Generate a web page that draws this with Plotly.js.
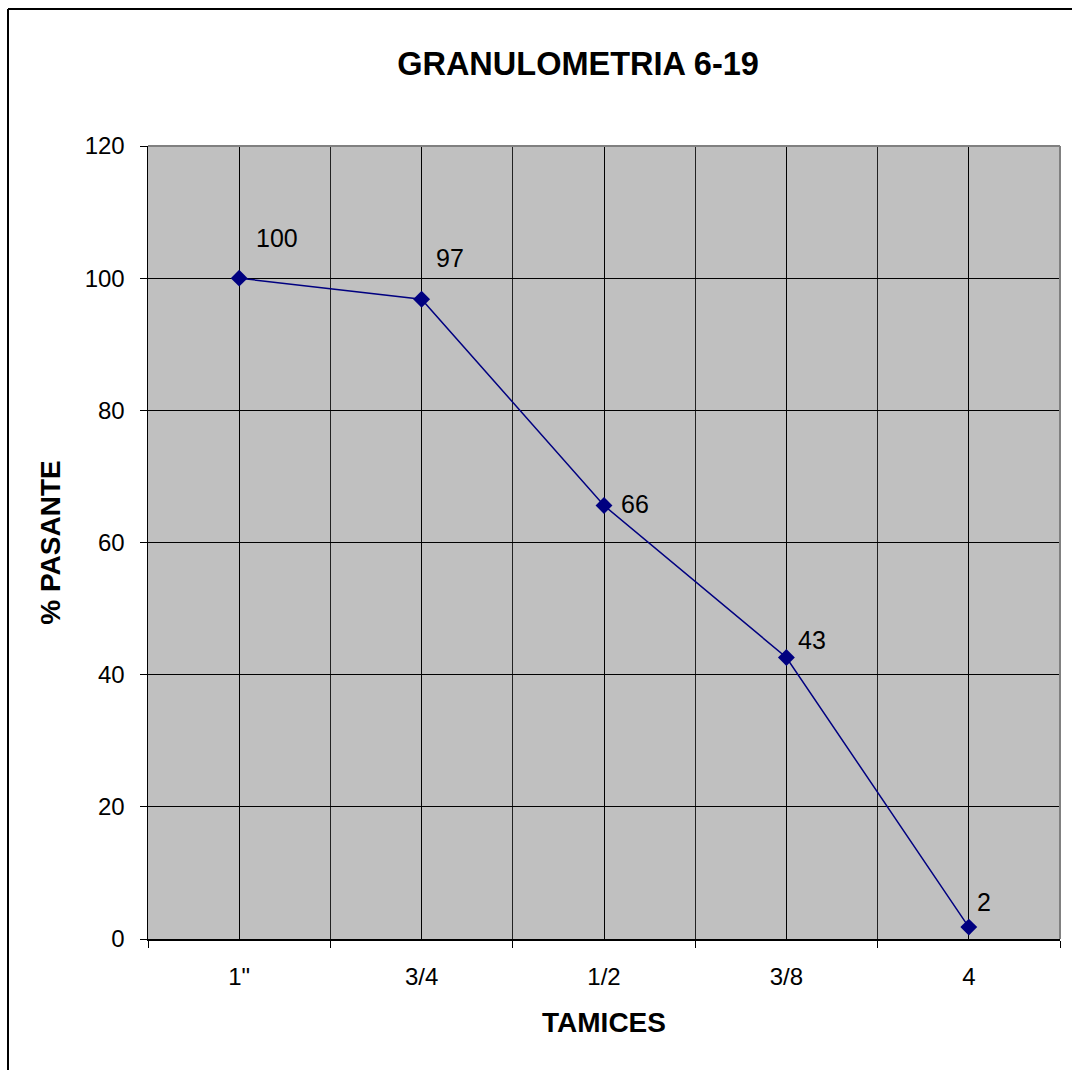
<!DOCTYPE html>
<html>
<head>
<meta charset="utf-8">
<script src="https://cdn.plot.ly/plotly-3.0.1.min.js"></script>
<style>
  html, body { margin: 0; padding: 0; background: #ffffff; }
  #chart { width: 1072px; height: 1070px; }
</style>
</head>
<body>
<div id="chart"></div>
<script>
// ---- data ----
const categories = ['1"', '3/4', '1/2', '3/8', '4'];
const pasante = [100, 96.8, 65.6, 42.6, 1.8];
const yTicks = [0, 20, 40, 60, 80, 100, 120];

// ---- presentation (label offsets in px) ----
const labelShiftX = [38, 28, 31, 26, 15];
const labelShiftY = [40, 41, 1, 17, 25];

const xIdx = categories.map((c, i) => i);
const FONT = 'Liberation Sans, Arial, sans-serif';

const trace = {
  type: 'scatter',
  mode: 'lines+markers',
  x: xIdx,
  y: pasante,
  line: { color: '#000080', width: 1.5 },
  marker: { symbol: 'diamond', size: 13, color: '#000080' },
  hoverinfo: 'skip',
  showlegend: false
};

const annotations = pasante.map((v, i) => ({
  x: xIdx[i], y: v, xref: 'x', yref: 'y',
  text: String(Math.round(v)),
  showarrow: false,
  xanchor: 'center', yanchor: 'middle',
  xshift: labelShiftX[i], yshift: labelShiftY[i],
  font: { family: FONT, size: 25, color: '#000000' }
}));

const layout = {
  width: 1072, height: 1070,
  margin: { l: 148, r: 12, t: 146, b: 131 },
  paper_bgcolor: '#ffffff',
  plot_bgcolor: '#c0c0c0',
  showlegend: false,
  title: {
    text: '<b>GRANULOMETRIA 6-19</b>',
    font: { family: FONT, size: 32.5, color: '#000000' },
    x: (578 - 148) / 912, xanchor: 'center', xref: 'paper',
    y: 1 - 64 / 1070, yanchor: 'middle', yref: 'container'
  },
  xaxis: {
    type: 'linear',
    range: [-0.5, categories.length - 0.5],
    tickmode: 'array',
    tickvals: xIdx,
    ticktext: categories,
    ticks: '',
    ticklabelstandoff: 16,
    showgrid: true,
    gridcolor: '#000000',
    gridwidth: 1,
    zeroline: false,
    showline: true,
    linecolor: '#000000',
    linewidth: 1.5,
    tickfont: { family: FONT, size: 24, color: '#000000' },
    minor: {
      tick0: -0.5, dtick: 1,
      ticks: 'outside', ticklen: 7, tickcolor: '#000000', tickwidth: 1,
      showgrid: true, gridcolor: '#222222', gridwidth: 1
    },
    title: {
      text: '<b>TAMICES</b>',
      font: { family: FONT, size: 28, color: '#000000' },
      standoff: 23
    },
    fixedrange: true
  },
  yaxis: {
    range: [0, 120],
    tickmode: 'array',
    tickvals: yTicks,
    ticktext: yTicks.map(String),
    ticks: 'outside',
    ticklen: 7,
    tickcolor: '#000000',
    ticklabelstandoff: 10,
    showgrid: true,
    gridcolor: '#000000',
    gridwidth: 1,
    zeroline: false,
    showline: true,
    linecolor: '#000000',
    linewidth: 1.5,
    tickfont: { family: FONT, size: 24, color: '#000000' },
    title: {
      text: '<b>% PASANTE</b>',
      font: { family: FONT, size: 28, color: '#000000' },
      standoff: 16
    },
    fixedrange: true
  },
  shapes: [
    // plot area gray border (top/right)
    { type: 'line', xref: 'paper', yref: 'paper', x0: 0, x1: 1, y0: 1, y1: 1,
      line: { color: '#808080', width: 2 }, layer: 'above' },
    { type: 'line', xref: 'paper', yref: 'paper', x0: 1, x1: 1, y0: 0, y1: 1,
      line: { color: '#808080', width: 2 }, layer: 'above' },
    // outer chart border (left/top)
    { type: 'line', xref: 'paper', yref: 'paper',
      x0: (8 - 148) / 912, x1: (8 - 148) / 912, y0: -0.3, y1: (939 - 9) / 793,
      line: { color: '#000000', width: 2 }, layer: 'above' },
    { type: 'line', xref: 'paper', yref: 'paper',
      x0: (8 - 148) / 912, x1: 1.2, y0: (939 - 9) / 793, y1: (939 - 9) / 793,
      line: { color: '#000000', width: 2 }, layer: 'above' }
  ],
  annotations: annotations
};

Plotly.newPlot('chart', [trace], layout, { displayModeBar: false, staticPlot: true });
</script>
</body>
</html>
